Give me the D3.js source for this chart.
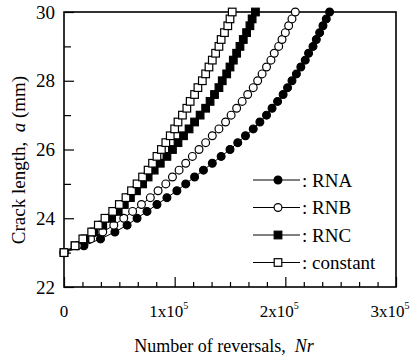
<!DOCTYPE html>
<html>
<head>
<meta charset="utf-8">
<script src="https://cdn.jsdelivr.net/npm/d3@7"></script>
<style>
  body { margin: 0; background: #fff; }
  svg { display: block; }
  text { font-family: "Liberation Serif", "Times New Roman", serif; fill: #000; }
</style>
</head>
<body>
<div id="graph"></div>
<script>
// crack length (mm), one marker every 0.2 mm
let crackLength = [23.0, 23.2, 23.4, 23.6, 23.8, 24.0, 24.2, 24.4, 24.6, 24.8,
    25.0, 25.2, 25.4, 25.6, 25.8, 26.0, 26.2, 26.4, 26.6, 26.8,
    27.0, 27.2, 27.4, 27.6, 27.8, 28.0, 28.2, 28.4, 28.6, 28.8,
    29.0, 29.2, 29.4, 29.6, 29.8, 30.0]

// number of reversals (x 1e5)
let rnaReversals = [0, 0.18, 0.33, 0.46, 0.57, 0.66, 0.75, 0.84, 0.93, 1.02,
    1.10, 1.18, 1.26, 1.34, 1.42, 1.50, 1.57, 1.64, 1.71, 1.77,
    1.83, 1.88, 1.93, 1.98, 2.02, 2.06, 2.10, 2.14, 2.18, 2.21,
    2.25, 2.28, 2.31, 2.34, 2.37, 2.40]
let rnbReversals = [0, 0.12, 0.24, 0.35, 0.45, 0.54, 0.62, 0.70, 0.78, 0.85,
    0.92, 0.98, 1.04, 1.10, 1.16, 1.22, 1.28, 1.34, 1.40, 1.46,
    1.51, 1.56, 1.61, 1.66, 1.71, 1.75, 1.79, 1.83, 1.87, 1.90,
    1.94, 1.97, 2.00, 2.03, 2.06, 2.09]
let rncReversals = [0, 0.10, 0.19, 0.27, 0.35, 0.43, 0.49, 0.545, 0.60, 0.655,
    0.71, 0.76, 0.815, 0.87, 0.93, 0.98, 1.03, 1.08, 1.13, 1.18,
    1.23, 1.28, 1.32, 1.36, 1.40, 1.43, 1.47, 1.50, 1.53, 1.56,
    1.59, 1.62, 1.65, 1.68, 1.70, 1.73]
let constantReversals = [0, 0.10, 0.17, 0.25, 0.31, 0.37, 0.44, 0.50, 0.56, 0.61,
    0.66, 0.71, 0.76, 0.80, 0.84, 0.88, 0.92, 0.96, 1.00, 1.03,
    1.07, 1.11, 1.14, 1.18, 1.21, 1.25, 1.28, 1.31, 1.34, 1.37,
    1.40, 1.42, 1.45, 1.48, 1.50, 1.52]

let seriesNames = ["RNA", "RNB", "RNC", "constant"]
let seriesValues = [rnaReversals, rnbReversals, rncReversals, constantReversals]
let seriesMarkers = ["filledCircle", "openCircle", "filledSquare", "openSquare"]

let yTicks = [22, 24, 26, 28, 30]
let yMinorTicks = [23, 25, 27, 29]
let xTicks = [0, 1, 2, 3]
let xTickLabels = ["0", "1x10", "2x10", "3x10"]

let width = 418, height = 362
let margin = {top: 12, right: 22, bottom: 75, left: 64}
let plot_w = width - margin.left - margin.right
let plot_h = height - margin.top - margin.bottom

let svg = d3.select("#graph")
    .append("svg")
    .attr("width", width)
    .attr("height", height)

let g = svg.append("g")
    .attr("transform", `translate(${margin.left}, ${margin.top})`)

let x = d3.scaleLinear().domain([0, 3]).range([0, plot_w])
let y = d3.scaleLinear().domain([22, 30]).range([plot_h, 0])

// inward ticks, five minor ticks between the labelled ones
let xMinor = d3.range(0, 18).map(function(i) { return i / 6 }).filter(function(v) { return v % 1 !== 0 })

g.append("g")
    .attr("transform", `translate(0, ${plot_h})`)
    .call(d3.axisBottom(x).tickValues(xTicks).tickSize(-10).tickFormat(""))
g.append("g")
    .attr("transform", `translate(0, ${plot_h})`)
    .call(d3.axisBottom(x).tickValues(xMinor).tickSize(-5).tickFormat(""))
g.append("g")
    .call(d3.axisLeft(y).tickValues(yTicks).tickSize(-10).tickPadding(9)
        .tickFormat(function(d) { return d }))
g.append("g")
    .call(d3.axisLeft(y).tickValues(yMinorTicks).tickSize(-7).tickFormat(""))

g.selectAll(".domain").remove()
g.selectAll("g").attr("font-family", null)
g.selectAll(".tick line").attr("stroke", "#000").attr("stroke-width", 1.2)
g.selectAll(".tick text")
    .style("font-size", "19px")

// frame
g.append("rect")
    .attr("width", plot_w)
    .attr("height", plot_h)
    .attr("fill", "none")
    .attr("stroke", "#000")
    .attr("stroke-width", 1.6)

// x tick labels with superscript
let xl = g.selectAll(".xlab")
    .data(xTicks)
    .enter()
    .append("text")
    .attr("class", "xlab")
    .attr("x", function(d) { return d === 0 ? x(d) : x(d) - 6 })
    .attr("y", plot_h + 30)
    .attr("text-anchor", "middle")
    .style("font-size", "17px")
xl.append("tspan").text(function(d, i) { return xTickLabels[i] })
xl.filter(function(d) { return d !== 0 })
    .append("tspan")
    .attr("dy", -8)
    .style("font-size", "10px")
    .text("5")

// axis titles
let xt = svg.append("text")
    .attr("x", margin.left + 160)
    .attr("y", 352)
    .attr("text-anchor", "middle")
    .style("font-size", "18px")
xt.append("tspan").text("Number of reversals,\u00a0\u00a0")
xt.append("tspan").style("font-style", "italic").text("Nr")

let yt = svg.append("text")
    .attr("transform", `translate(25, 160) rotate(-90)`)
    .attr("text-anchor", "middle")
    .style("font-size", "19px")
yt.append("tspan").text("Crack length,\u00a0\u00a0")
yt.append("tspan").style("font-style", "italic").text("a")
yt.append("tspan").text(" (mm)")

function drawMarker(sel, kind) {
    if (kind.indexOf("Circle") >= 0) {
        sel.append("circle")
            .attr("r", 3.9)
            .attr("fill", kind === "filledCircle" ? "#000" : "#fff")
            .attr("stroke", "#000")
            .attr("stroke-width", 1.2)
    } else {
        sel.append("rect")
            .attr("x", -3.8).attr("y", -3.8)
            .attr("width", 7.6).attr("height", 7.6)
            .attr("fill", kind === "filledSquare" ? "#000" : "#fff")
            .attr("stroke", "#000")
            .attr("stroke-width", 1.2)
    }
}

let line = d3.line()
    .x(function(d) { return x(d[0]) })
    .y(function(d) { return y(d[1]) })

for (let s = 0; s < seriesNames.length; s++) {
    let pts = seriesValues[s].map(function(v, i) { return [v, crackLength[i]] })
    g.append("path")
        .datum(pts)
        .attr("d", line)
        .attr("fill", "none")
        .attr("stroke", "#000")
        .attr("stroke-width", 1)
    let m = g.append("g").selectAll("g")
        .data(pts)
        .enter()
        .append("g")
        .attr("transform", function(d) { return `translate(${x(d[0])}, ${y(d[1])})` })
    drawMarker(m, seriesMarkers[s])
}

// legend
let legend = svg.append("g").attr("transform", "translate(253, 180)")
seriesNames.forEach(function(name, i) {
    let row = legend.append("g").attr("transform", `translate(0, ${i * 27.5})`)
    row.append("line")
        .attr("x1", 0).attr("x2", 47)
        .attr("stroke", "#000").attr("stroke-width", 1)
    let mk = row.append("g").attr("transform", "translate(25, 0)")
    drawMarker(mk, seriesMarkers[i])
    row.append("text")
        .attr("x", 49)
        .attr("y", 6.5)
        .style("font-size", "19px")
        .text(": " + name)
})
</script>
</body>
</html>
